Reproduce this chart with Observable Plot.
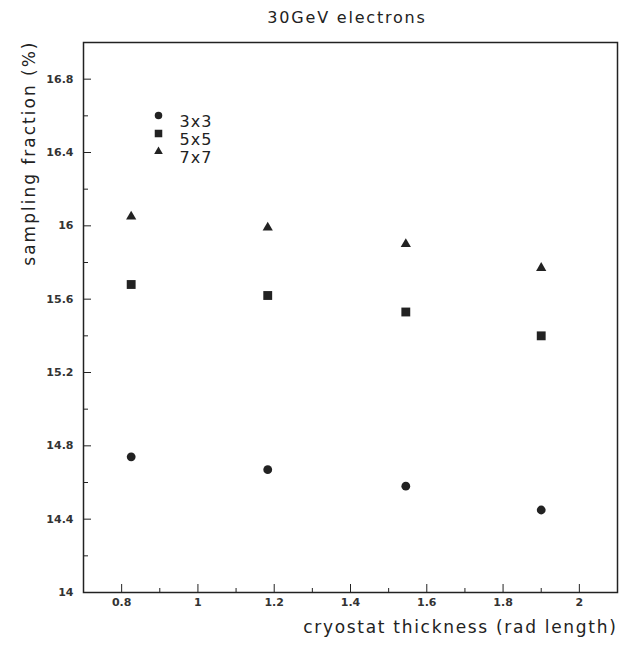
<!DOCTYPE html>
<html><head><meta charset="utf-8">
<script src="https://cdn.jsdelivr.net/npm/d3@7"></script>
<script src="https://cdn.jsdelivr.net/npm/@observablehq/plot@0.6"></script>
<style>
body{margin:0;background:#fff;font-family:"DejaVu Sans",sans-serif}
#title{height:32px;width:619px;position:relative}
#title span{position:absolute;left:347px;top:8px;transform:translateX(-50%);font-size:16px;letter-spacing:1.8px;color:#222;white-space:nowrap}
</style></head>
<body>
<div id="title"><span>30GeV electrons</span></div>
<div id="chart"></div>
<script>
const thickness = [0.825, 1.183, 1.545, 1.90];
const frac3x3 = [14.74, 14.67, 14.58, 14.45];
const frac5x5 = [15.68, 15.62, 15.53, 15.40];
const frac7x7 = [16.05, 15.99, 15.90, 15.77];
const seriesNames = ["3x3", "5x5", "7x7"];
const xMajorTicks = [0.8, 1, 1.2, 1.4, 1.6, 1.8, 2];
const xMinorTicks = [0.9, 1.1, 1.3, 1.5, 1.7, 1.9];
const yMajorTicks = [14, 14.4, 14.8, 15.2, 15.6, 16, 16.4, 16.8];
const yMinorTicks = [14.2, 14.6, 15, 15.4, 15.8, 16.2, 16.6];
const xLabel = "cryostat thickness (rad length)";
const yLabel = "sampling fraction (%)";

const mk = (vals) => thickness.map((t, i) => ({x: t, y: vals[i]}));
const fmt = d => String(+d.toFixed(2));
const ink = "#222";
const symbols = ["circle", "square", "triangle"];
const radii = [4.4, 5, 3.8];
const seriesData = [frac3x3, frac5x5, frac7x7];

const marks = [
  Plot.frame({stroke: ink, strokeWidth: 1.5}),
  Plot.axisX(xMajorTicks, {tickSize: 0, tickPadding: 6, tickFormat: fmt, fontSize: 11, fontWeight: "bold", fill: "#333", label: null}),
  Plot.axisX(xMajorTicks, {tickSize: -8, tickFormat: () => "", label: null, stroke: ink}),
  Plot.axisX(xMinorTicks, {tickSize: -4, tickFormat: () => "", label: null, stroke: ink}),
  Plot.axisY(yMajorTicks, {tickSize: 0, tickPadding: 10, tickFormat: fmt, fontSize: 11, fontWeight: "bold", fill: "#333", label: null}),
  Plot.axisY(yMajorTicks, {tickSize: -8, tickFormat: () => "", label: null, stroke: ink}),
  Plot.axisY(yMinorTicks, {tickSize: -5, tickFormat: () => "", label: null, stroke: ink}),
  Plot.text([xLabel], {frameAnchor: "bottom-right", textAnchor: "end", dy: 40, fontSize: 17, fill: ink}),
  Plot.text([yLabel], {frameAnchor: "top-left", textAnchor: "end", rotate: -90, dx: -61, dy: -2, fontSize: 17, fill: ink})
];
seriesData.forEach((vals, i) => {
  marks.push(Plot.dot(mk(vals), {x: "x", y: "y", symbol: symbols[i], r: radii[i], fill: ink, stroke: null}));
  marks.push(Plot.dot([seriesNames[i]], {frameAnchor: "top-left", dx: 75, dy: 73 + 18 * i, symbol: symbols[i], r: radii[i] * 0.85, fill: ink, stroke: null}));
  marks.push(Plot.text([seriesNames[i]], {frameAnchor: "top-left", dx: 96, dy: 73 + 18 * i, textAnchor: "start", fontSize: 16, fill: ink}));
});

const plot = Plot.plot({
  width: 619, height: 615,
  marginLeft: 83, marginRight: 2, marginTop: 10, marginBottom: 55,
  x: {domain: [0.7, 2.1]},
  y: {domain: [14, 17]},
  style: {fontFamily: "DejaVu Sans, sans-serif", color: ink, background: "white", overflow: "visible"},
  marks
});
d3.select(plot).selectAll("text").each(function() {
  const t = this.textContent;
  if (t === xLabel) this.style.letterSpacing = "1.7px";
  else if (t === yLabel) this.style.letterSpacing = "2px";
  else if (seriesNames.includes(t)) this.style.letterSpacing = "1px";
});
document.getElementById("chart").appendChild(plot);
</script>
</body></html>
